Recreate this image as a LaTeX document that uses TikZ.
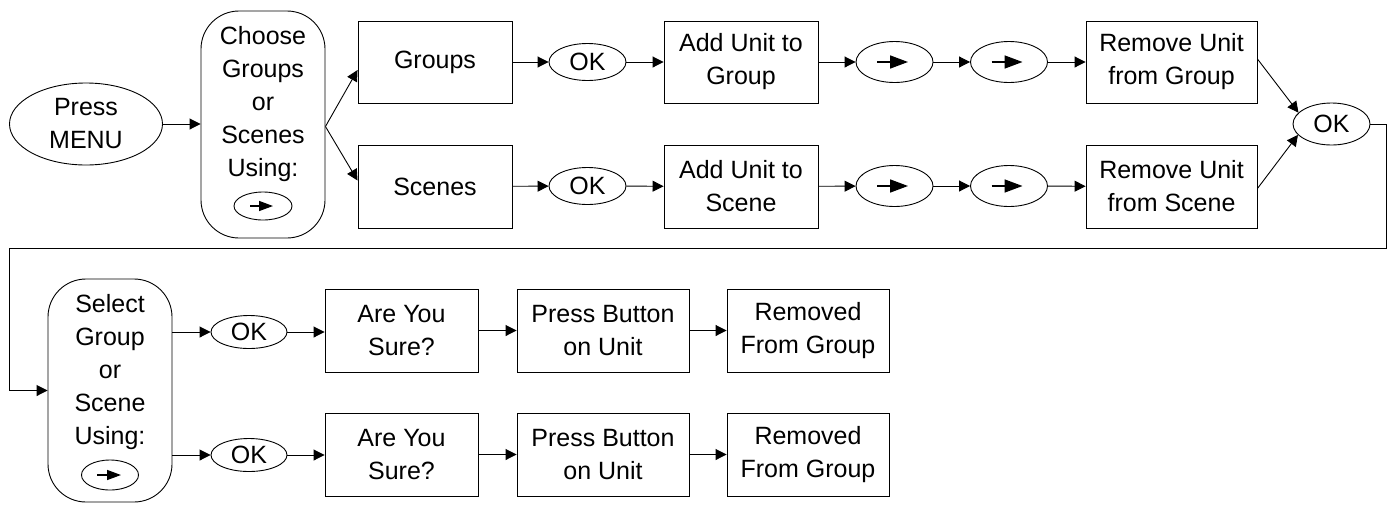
\documentclass[tikz,border=0pt]{standalone}
\usepackage{fontspec}
\setmainfont{Liberation Sans}
\usetikzlibrary{arrows.meta,shapes.geometric}
\tikzset{
  base/.style={draw, line width=0.9pt, font=\fontsize{25}{33}\selectfont, align=center, inner sep=0pt},
  box/.style={base, rectangle, minimum width=#1, minimum height=82pt},
  oval/.style={base, ellipse},
  pill/.style={base, rectangle, rounded corners=38pt, minimum width=124pt},
  txt/.style={font=\fontsize{25}{33}\selectfont, align=center, inner sep=0pt},
  arr/.style={line width=0.9pt, -{Triangle[length=11pt,width=11pt]}},
  glyph/.style={line width=1.6pt, -{Triangle[length=18pt,width=13pt]}},
  glyphs/.style={line width=1.4pt, -{Triangle[length=14pt,width=10pt]}},
}
\begin{document}
\begin{tikzpicture}[x=1pt,y=-1pt]
\useasboundingbox (0,0) rectangle (1391,504);
% top part
\node[oval, minimum width=153pt, minimum height=82pt] (menu) at (86,124) {Press\\MENU};
\node[pill, minimum height=227pt] (choose) at (263,124.5) {};
\node[txt] (chooset) at (263,104.5) {Choose\\Groups\\or\\Scenes\\Using:};
\node[oval, minimum width=58pt, minimum height=28pt] (chooseb) at (263,206) {};
\draw[glyphs] ([xshift=-13pt]chooseb.center) -- ([xshift=10pt]chooseb.center);

\node[box=154pt] (groups) at (435,62) {Groups};
\node[oval, minimum width=77pt, minimum height=37pt] (okg) at (587.5,62) {OK};
\node[box=154pt] (addg) at (741,62) {Add Unit to\\Group};
\node[oval, minimum width=77pt, minimum height=41pt] (ag1) at (894.5,62) {};
\node[oval, minimum width=77pt, minimum height=41pt] (ag2) at (1009,62) {};
\node[box=171pt] (remg) at (1171.5,62) {Remove Unit\\from Group};

\node[box=154pt, minimum height=83pt] (scenes) at (435,186.5) {Scenes};
\node[oval, minimum width=77pt, minimum height=37pt] (oks) at (587.5,186) {OK};
\node[box=154pt, minimum height=83pt] (adds) at (741,186.5) {Add Unit to\\Scene};
\node[oval, minimum width=77pt, minimum height=41pt] (as1) at (894.5,186) {};
\node[oval, minimum width=77pt, minimum height=41pt] (as2) at (1009,186) {};
\node[box=171pt, minimum height=83pt] (rems) at (1171.5,186.5) {Remove Unit\\from Scene};

\node[oval, minimum width=77pt, minimum height=42pt] (ok2) at (1331.5,124) {OK};

\foreach \n in {ag1,ag2,as1,as2}
  \draw[glyph] ([xshift=-17.5pt]\n.center) -- ([xshift=13.5pt]\n.center);

\draw[arr] (menu.east) -- (menu.east -| choose.west);
\draw[arr] ([yshift=-2pt]choose.east) -- ([yshift=-8pt]groups.west);
\draw[arr] ([yshift=-2pt]choose.east) -- ([yshift=6pt]scenes.west);
\draw[arr] (groups) -- (okg);
\draw[arr] (okg) -- (addg);
\draw[arr] (addg) -- (ag1);
\draw[arr] (ag1) -- (ag2);
\draw[arr] (ag2) -- (remg);
\draw[arr] (scenes) -- (oks);
\draw[arr] (oks) -- (adds);
\draw[arr] (adds) -- (as1);
\draw[arr] (as1) -- (as2);
\draw[arr] (as2) -- (rems);
\draw[arr] ([yshift=3pt]remg.east) -- (ok2.161);
\draw[arr] ([yshift=-2pt]rems.east) -- (ok2.198);

% loop
\coordinate (lr) at (1386,248);
\coordinate (ll) at (9,248);

% bottom part
\node[pill, minimum height=223pt] (select) at (110,390.5) {};
\node[txt] (selectt) at (110,371.6) {Select\\Group\\or\\Scene\\Using:};
\node[oval, minimum width=57pt, minimum height=30pt] (selectb) at (110,475) {};
\draw[glyphs] ([xshift=-13pt]selectb.center) -- ([xshift=11pt]selectb.center);

\draw[arr] (ok2.east) -| (lr) -- (ll) |- (select.west);

\node[oval, minimum width=76pt, minimum height=33pt] (okb1) at (249,332) {OK};
\node[box=153pt, minimum height=83pt] (sure1) at (401.5,330.5) {Are You\\Sure?};
\node[box=172pt, minimum height=83pt] (press1) at (603,330.5) {Press Button\\on Unit};
\node[box=162pt, minimum height=83pt] (remd1) at (808,330.5) {Removed\\From Group};

\node[oval, minimum width=76pt, minimum height=33pt] (okb2) at (249,455) {OK};
\node[box=153pt, minimum height=83pt] (sure2) at (401.5,454.5) {Are You\\Sure?};
\node[box=172pt, minimum height=83pt] (press2) at (603,454.5) {Press Button\\on Unit};
\node[box=162pt, minimum height=83pt] (remd2) at (808,454.5) {Removed\\From Group};

\draw[arr] (select.east |- okb1) -- (okb1);
\draw[arr] (okb1.east) -- (okb1.east -| sure1.west);
\draw[arr] (sure1) -- (press1);
\draw[arr] (press1) -- (remd1);
\draw[arr] (select.east |- okb2) -- (okb2);
\draw[arr] (okb2.east) -- (okb2.east -| sure2.west);
\draw[arr] (sure2) -- (press2);
\draw[arr] (press2) -- (remd2);
\end{tikzpicture}
\end{document}
